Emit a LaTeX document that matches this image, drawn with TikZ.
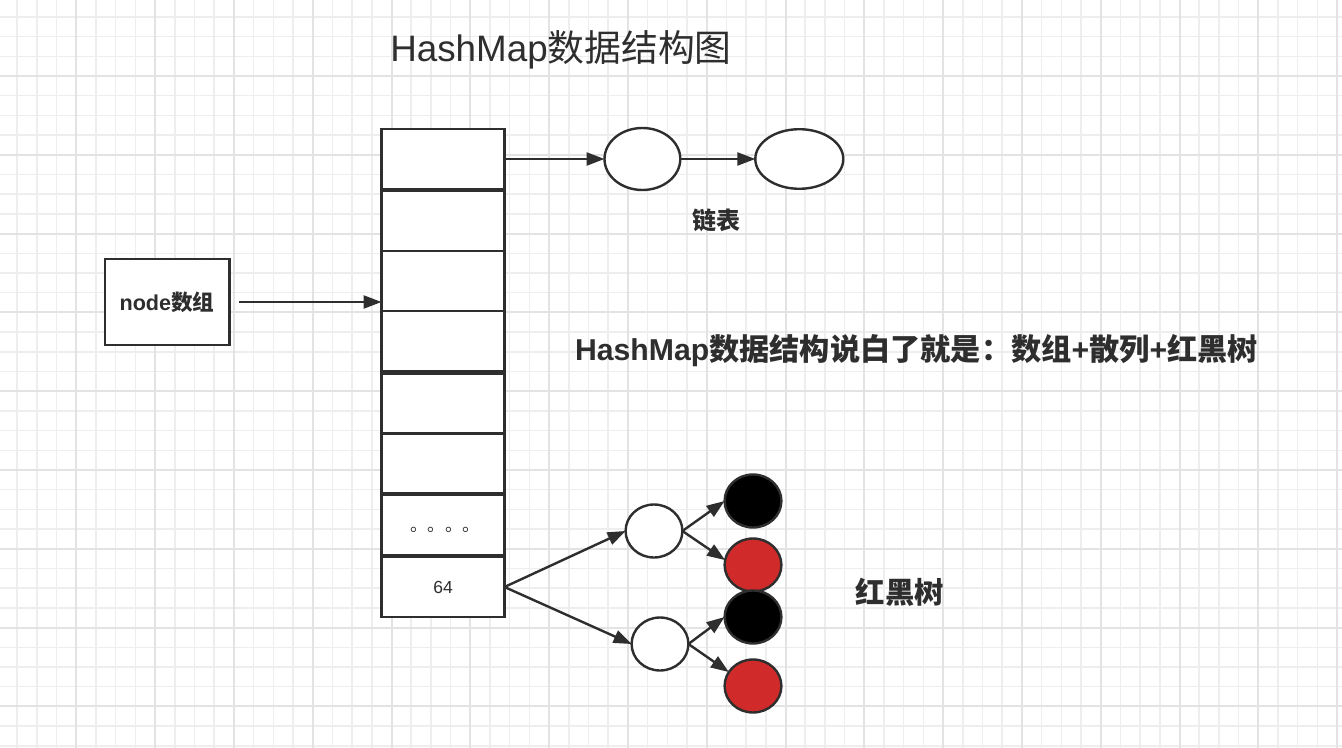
\documentclass[tikz,border=0pt]{standalone}
\usepackage{fontspec}
\setmainfont{Liberation Sans}
\newfontfamily\cjk{Noto Sans CJK SC}
\usepackage{tikz}
\usetikzlibrary{positioning}
\usetikzlibrary{arrows.meta,shapes.geometric}
\definecolor{ink}{HTML}{2E2E2E}
\definecolor{rbred}{HTML}{D02A2A}
\definecolor{gridminor}{HTML}{EEEEEE}
\definecolor{gridmajor}{HTML}{E3E3E3}

\begin{document}
\begin{tikzpicture}[->,>={Triangle[length=9pt,width=6.5pt]},x=0.5pt,y=-0.5pt,
        line width=1.2pt,color=ink,
        minorline/.style={-,draw=gridminor,line width=0.75pt},
        majorline/.style={-,draw=gridmajor,line width=1pt},
        cell/.style={rectangle,draw,fill=white,minimum width=61.5pt,minimum height=30pt,
                     inner sep=0pt,outer sep=0pt,font=\fontsize{8.75}{10}\selectfont},
        arraybox/.style={rectangle,draw,fill=white,minimum width=62.3pt,minimum height=42.8pt,
                     inner sep=0pt,outer sep=0pt},
        listnode/.style={ellipse,draw,fill=white,inner sep=0pt,outer sep=0pt},
        treenode/.style={ellipse,draw,fill=white,inner sep=0pt,outer sep=0pt,
                     minimum width=28.4pt,minimum height=26.5pt},
        blacknode/.style={treenode,fill=black},
        rednode/.style={treenode,fill=rbred},
        plaintext/.style={inner sep=0pt}]

  % background grid
  \fill[white] (0,0) rectangle (1342,748);
  \useasboundingbox (0,0) rectangle (1342,748);
  \foreach \i in {0,...,67}
    \draw[minorline] (17.2+19.7*\i,0) -- (17.2+19.7*\i,748);
  \foreach \j in {0,...,37}
    \draw[minorline] (0,16.9+19.7*\j) -- (1342,16.9+19.7*\j);
  \foreach \i in {0,...,16}
    \draw[majorline] (76.3+78.8*\i,0) -- (76.3+78.8*\i,748);
  \foreach \j in {0,...,8}
    \draw[majorline] (0,76+78.8*\j) -- (1342,76+78.8*\j);

  \node[plaintext] (title) at (561,62) [anchor=base]
      {\fontsize{18.4}{20}\selectfont HashMap{\cjk 数据结构图}};

  % the node array
  \node[cell] (c1) at (443,159) {};
  \node[cell] (c2) [below=1pt of c1] {};
  \node[cell] (c3) [below=0pt of c2] {};
  \node[cell] (c4) [below=0pt of c3] {};
  \node[cell] (c5) [below=1.2pt of c4] {};
  \node[cell] (c6) [below=0pt of c5] {};
  \node[cell] (c7) [below=0.8pt of c6] {\hspace{2pt}\raisebox{-3.3pt}[0pt][0pt]{\cjk 。。。。}};
  \node[cell] (c8) [below=1pt of c7] {64};

  \node[arraybox] (nb) at (167,302) {\bfseries\fontsize{10.8}{12}\selectfont node{\cjk 数组}};

  % linked list
  \node[listnode,minimum width=37.9pt,minimum height=31pt] (L1) [right=50pt of c1] {};
  \node[listnode,minimum width=44pt,minimum height=29.8pt] (L2) [right=37.5pt of L1] {};
  \node[plaintext] (listtext) at (716,220) {\bfseries\fontsize{12}{14}\selectfont\cjk 链表};

  \node[plaintext] (summary) at (916.5,360) [anchor=base]
      {\bfseries\fontsize{15.1}{17}\selectfont HashMap{\cjk 数据结构说白了就是：数组}+{\cjk 散列}+{\cjk 红黑树}};

  % red-black tree
  \node[treenode] (T1) at (654,531) {};
  \node[treenode] (T2) at (660,644) {};
  \node[blacknode] (B1) at (753,501) {};
  \node[rednode] (R1) at (753,565) {};
  \node[blacknode] (B2) at (753,617) {};
  \node[rednode] (R2) at (753,686) {};
  \node[plaintext] (treetext) at (900,592.5) {\bfseries\fontsize{14.7}{16}\selectfont\cjk 红黑树};

  \path (c1) edge (L1)
        (L1) edge (L2)
        (nb.east) edge [shorten <=4.8pt] (nb.east -| c3.west)
        (c8.east) edge (T1.west)
        (c8.east) edge (T2.west)
        (T1.east) edge (B1.west)
        (T1.east) edge (R1.170)
        (T2.east) edge (B2.west)
        (T2.east) edge (R2.150);

\end{tikzpicture}
\end{document}
